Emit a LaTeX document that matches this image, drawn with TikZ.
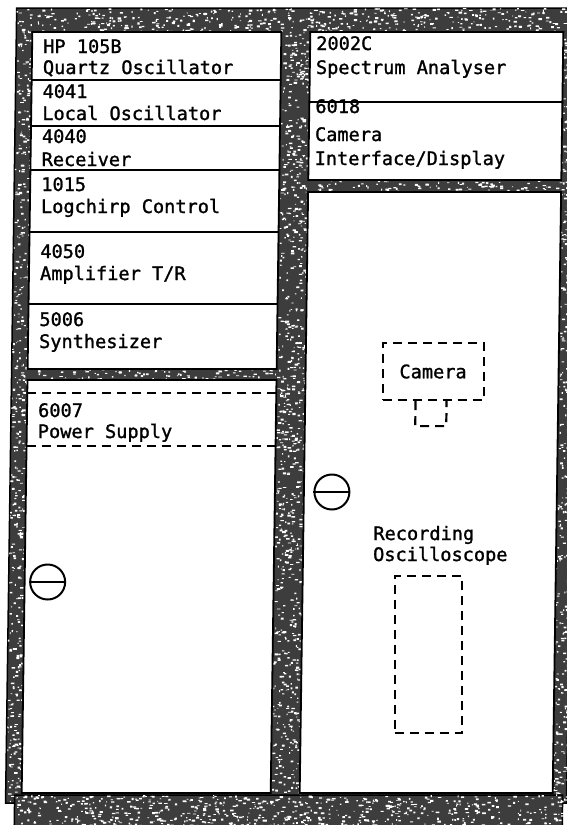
\documentclass[tikz,border=0pt]{standalone}
\usepackage{fontspec}
\newfontfamily\monofam[FakeBold=1.3]{DejaVu Sans Mono}
\newcommand\frameSpecks[5]{%
  \foreach \k in {1,...,#5}{%
    \pgfmathsetmacro\sx{#1+#3*rnd}%
    \pgfmathsetmacro\sy{#2+#4*rnd}%
    \fill[white] (\sx,\sy) rectangle ++({0.8+2.8*rnd},{0.7+1.4*rnd});%
  }}
\begin{document}
\begin{tikzpicture}[x=1pt,y=-1pt,
  txt/.style={font=\monofam\fontsize{18.6}{21}\selectfont, inner sep=0pt, anchor=base west},
  fnt/.style={font=\monofam\fontsize{18.6}{21}\selectfont},
  panel/.style={fill=white, draw=black, line width=1.8pt},
  sep/.style={draw=black, line width=1.8pt},
  dsh/.style={draw=black, line width=2.2pt, dash pattern=on 9pt off 6pt},
  frm/.style={fill=black!76, draw=black, line width=1.5pt},
  knob/.style={circle, draw=black, line width=2pt, minimum size=35pt, inner sep=0pt}]
\useasboundingbox (0,0) rectangle (566,825);
\begin{scope}[xshift=5.8pt, xslant=0.014]
% ---- cabinet frame ----
\path[frm] (11,8) rectangle (572,803);
\path[frm] (20,795) rectangle (568,826);
\pgfmathsetseed{7}
\frameSpecks{11}{8}{561}{24}{500}
\frameSpecks{11}{32}{16}{770}{450}
\frameSpecks{276}{32}{29}{760}{800}
\frameSpecks{558}{32}{14}{770}{400}
\frameSpecks{20}{795}{548}{31}{640}
\frameSpecks{27}{369}{249}{11}{90}
\frameSpecks{305}{180}{253}{12}{100}
% ---- panels ----
\draw[panel] (27,32) rectangle (276,369);
\draw[panel] (27,380) rectangle (276,793);
\draw[panel] (305,32) rectangle (558,180);
\draw[panel] (305,192) rectangle (558,793);
% separators left column
\foreach \yy in {80,126,170,232,304} \draw[sep] (27,\yy) -- (276,\yy);
% separator right column
\draw[sep] (305,102) -- (558,102);
% ---- left column texts ----
\node[txt] (hpa) at (38,53) {HP 105B};
\node[txt] (hpb) at (38,74) {Quartz Oscillator};
\node[txt] (loa) at (38,98) {4041};
\node[txt] (lob) at (38,120) {Local Oscillator};
\node[txt] (rxa) at (38,143) {4040};
\node[txt] (rxb) at (38,166) {Receiver};
\node[txt] (lca) at (38,191) {1015};
\node[txt] (lcb) at (38,213) {Logchirp Control};
\node[txt] (ama) at (38,258) {4050};
\node[txt] (amb) at (38,280) {Amplifier T/R};
\node[txt] (sya) at (38,326) {5006};
\node[txt] (syb) at (38,348) {Synthesizer};
% power supply (dashed)
\coordinate (psTL) at (27,393);
\coordinate (psTR) at (276,393);
\coordinate (psBL) at (27,446);
\coordinate (psBR) at (276,446);
\draw[dsh] (psTL) -- (psTR);
\draw[dsh] (psBL) -- (psBR);
\node[txt] (psa) at (38,417) {6007};
\node[txt] (psb) at (38,438) {Power Supply};
% knob left
\node[knob] (knobL) at (50,582) {};
\draw[line width=2pt] (knobL.west) -- (knobL.east);
% ---- right column texts ----
\node[txt] (saa) at (311,50) {2002C};
\node[txt] (sab) at (311,74) {Spectrum Analyser};
\node[txt] (cia) at (311,113) {6018};
\node[txt] (cib) at (311,141) {Camera};
\node[txt] (cic) at (311,165) {Interface/Display};
% camera
\node[dsh, fnt, minimum width=101pt, minimum height=57pt, inner sep=0pt] (cam) at (432.5,371.5) {Camera};
\draw[dsh] ([xshift=-17.5pt]cam.south) -- ++(0,25) -| ([xshift=13.5pt]cam.south);
% knob right
\node[knob] (knobR) at (333,492) {};
\draw[line width=2pt] (knobR.west) -- (knobR.east);
% recording oscilloscope
\node[txt] (roa) at (375,540) {Recording};
\node[txt] (rob) at (375,561) {Oscilloscope};
\node[dsh, minimum width=67pt, minimum height=157pt, inner sep=0pt] (osc) at (431.5,654.5) {};
\end{scope}
\end{tikzpicture}
\end{document}
